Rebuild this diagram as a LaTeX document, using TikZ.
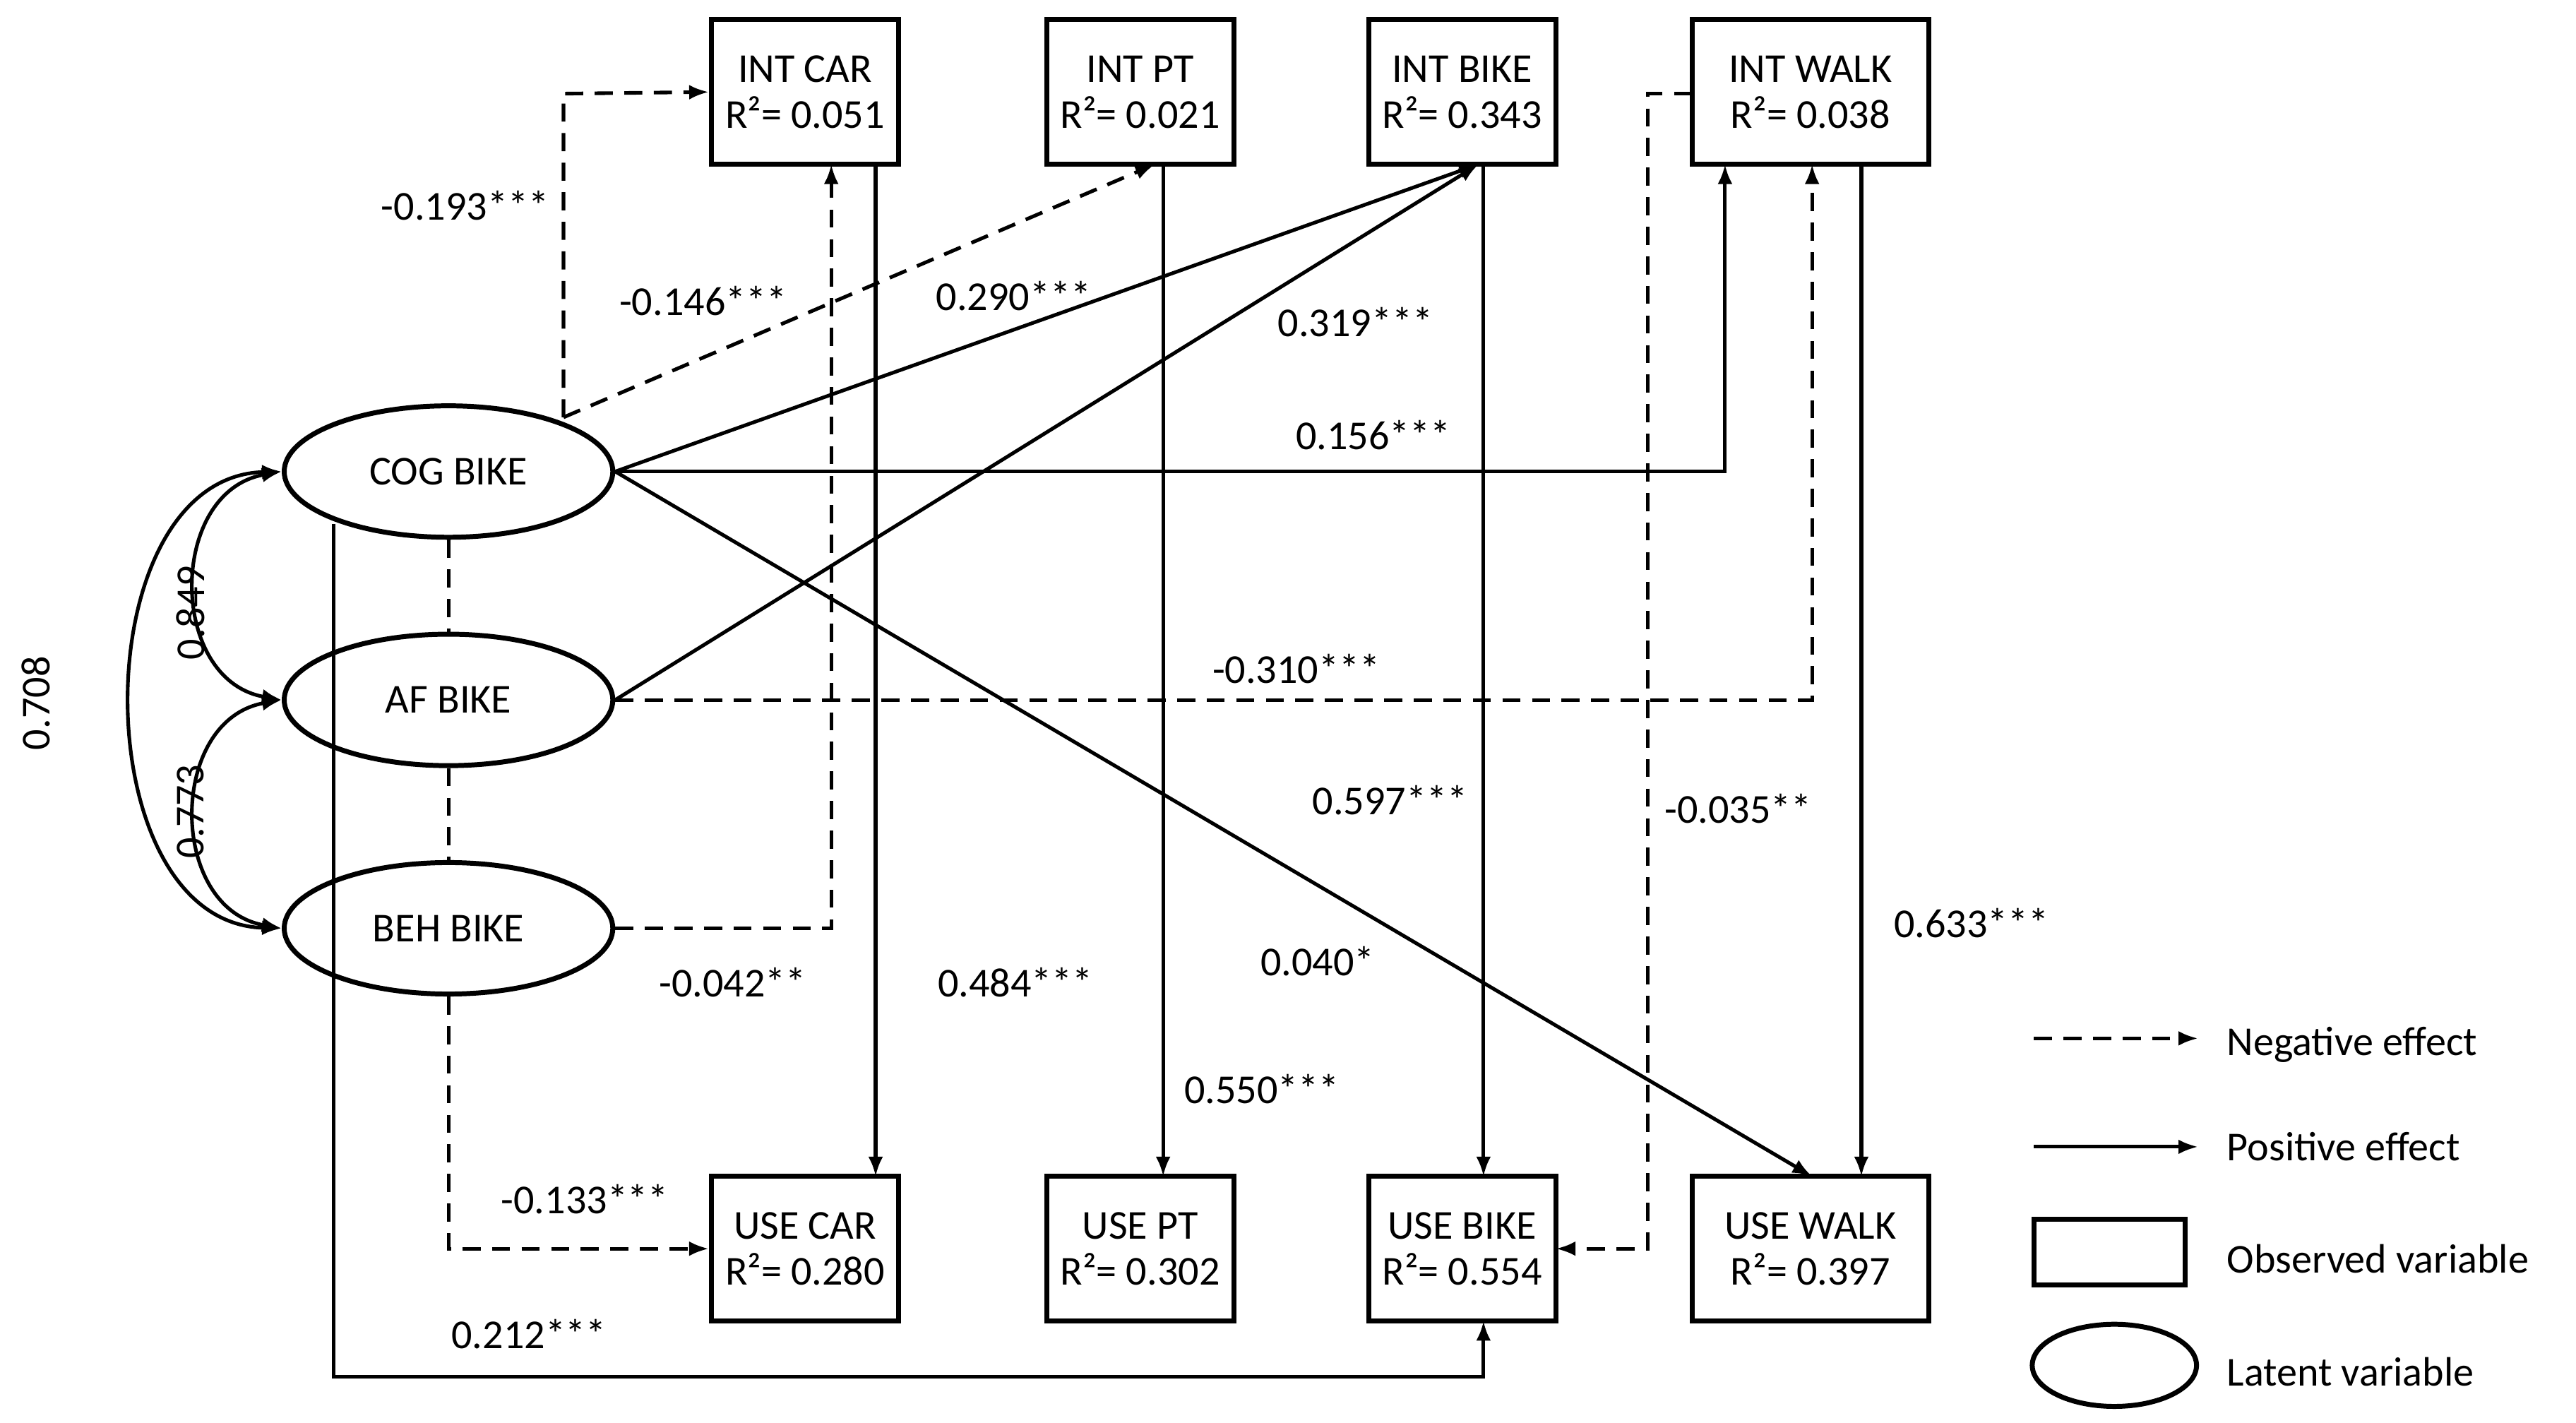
\documentclass[tikz,border=0pt]{standalone}
\usepackage{fontspec}
\setmainfont{Carlito}
\usetikzlibrary{arrows.meta,shapes.geometric}
\begin{document}
\begin{tikzpicture}[x=1pt,y=-1pt,
 every node/.style={font=\fontsize{25}{28}\selectfont},
 box/.style={draw,line width=3pt,minimum width=114pt,minimum height=88pt,align=center,inner sep=0pt},
 lat/.style={draw,ellipse,line width=3pt,minimum width=200pt,minimum height=80pt,inner sep=0pt},
 posa/.style={line width=2.2pt,-{Latex[length=12pt,width=9pt]}},
 nega/.style={posa,dash pattern=on 11pt off 7pt},
 dsh/.style={line width=2.2pt,dash pattern=on 11pt off 7pt},
 lbl/.style={inner sep=1pt}]
\useasboundingbox (0,0) rectangle (1568,866);
% boxes
\node[box] (ic) at (490,56) {INT CAR\\R²= 0.051};
\node[box] (ip) at (694,56) {INT PT\\R²= 0.021};
\node[box] (ib) at (890,56) {INT BIKE\\R²= 0.343};
\node[box,minimum width=144pt] (iw) at (1102,56) {INT WALK\\R²= 0.038};
\node[box] (uc) at (490,760) {USE CAR\\R²= 0.280};
\node[box] (up) at (694,760) {USE PT\\R²= 0.302};
\node[box] (ub) at (890,760) {USE BIKE\\R²= 0.554};
\node[box,minimum width=144pt] (uw) at (1102,760) {USE WALK\\R²= 0.397};
% latents
\node[lat] (cog) at (273,287) {COG BIKE};
\node[lat] (af) at (273,426) {AF BIKE};
\node[lat] (beh) at (273,565) {BEH BIKE};
% coordinates
\coordinate (c1) at (343,57);
\coordinate (c2) at (1050,287);
\coordinate (c3) at (1103,426);
\coordinate (c4) at (506,565);
\coordinate (c5) at (1003,57);
\coordinate (c6) at (1003,760);
\coordinate (c7) at (273,760);
\coordinate (c8) at (203,838);
\coordinate (c9) at (903,838);
\coordinate (apex) at (900,100);
% paths
\draw[nega] (343,254) -- (c1) -- (ic.west);
\draw[nega] (343,254) -- (703,100);
\draw[posa] (cog.east) -- (apex);
\draw[posa] (af.east) -- (apex);
\draw[posa] (cog.east) -- (c2) -- (1050,100);
\draw[posa] (cog.east) -- (1103,716);
\draw[nega] (af.east) -- (c3) -- (1103,100);
\draw[nega] (beh.east) -- (c4) -- (506,100);
\draw[posa] (533,100) -- (533,716);
\draw[posa] (708,100) -- (708,716);
\draw[posa] (903,100) -- (903,716);
\draw[posa] (1133,100) -- (1133,716);
\draw[nega] (1030,57) -- (c5) -- (c6) -- (947,760);
\draw[nega] (beh.south) -- (c7) -- (uc.west);
\draw[posa] (203,319) -- (c8) -- (c9) -- (903,804);
\draw[dsh] (cog.south) -- (af.north);
\draw[dsh] (af.south) -- (beh.north);
% covariances
\draw[line width=2.2pt,{Latex[length=12pt,width=9pt]}-{Latex[length=12pt,width=9pt]}] (cog.west) to[out=190,in=170,looseness=1.3] (af.west);
\draw[line width=2.2pt,{Latex[length=12pt,width=9pt]}-{Latex[length=12pt,width=9pt]}] (af.west) to[out=190,in=170,looseness=1.3] (beh.west);
\draw[line width=2.2pt,{Latex[length=12pt,width=9pt]}-{Latex[length=12pt,width=9pt]}] (cog.west) .. controls (50,290) and (50,562) .. (beh.west);
% labels
\node[lbl] at (283,125) {-0.193***};
\node[lbl] at (428,183) {-0.146***};
\node[lbl] at (617,180) {0.290***};
\node[lbl] at (825,196) {0.319***};
\node[lbl] at (836,265) {0.156***};
\node[lbl] at (789,407) {-0.310***};
\node[lbl] at (846,487) {0.597***};
\node[lbl] at (802,585) {0.040*};
\node[lbl] at (1058,492) {-0.035**};
\node[lbl] at (1200,562) {0.633***};
\node[lbl] at (446,598) {-0.042**};
\node[lbl] at (618,598) {0.484***};
\node[lbl] at (768,663) {0.550***};
\node[lbl] at (356,730) {-0.133***};
\node[lbl] at (322,812) {0.212***};
\node[lbl,rotate=90] at (116,373) {0.849};
\node[lbl,rotate=90] at (116,494) {0.773};
\node[lbl,rotate=90] at (22,428) {0.708};
% legend
\coordinate (n1) at (1238,632); \coordinate (n2) at (1338,632);
\draw[nega] (n1) -- (n2);
\node[anchor=west] at (1352,636) {Negative effect};
\coordinate (p1) at (1238,698); \coordinate (p2) at (1338,698);
\draw[posa] (p1) -- (p2);
\node[anchor=west] at (1352,698) {Positive effect};
\node[draw,line width=3pt,minimum width=92pt,minimum height=40pt] (lb) at (1284,762) {};
\node[anchor=west] at (1352,766) {Observed variable};
\node[draw,ellipse,line width=3pt,minimum width=100pt,minimum height=50pt] (le) at (1287,831) {};
\node[anchor=west] at (1352,835) {Latent variable};
\end{tikzpicture}
\end{document}
